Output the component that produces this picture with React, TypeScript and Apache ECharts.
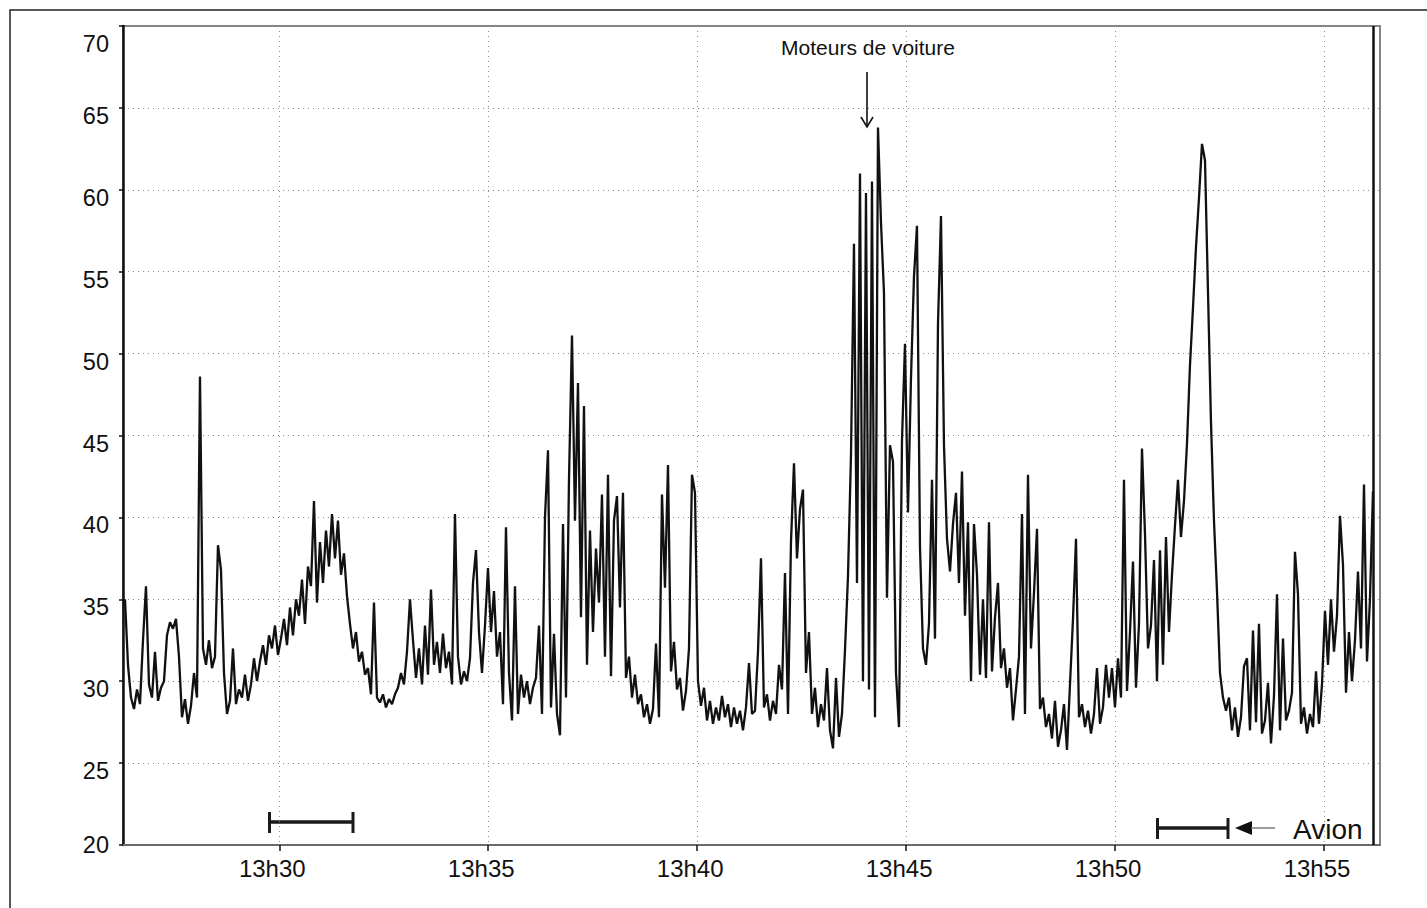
import React, { useEffect, useRef } from "react";
import * as echarts from "echarts";

const seg1326 = [35.0, 31.0, 29.0, 28.3, 29.5, 28.6, 32.5, 35.8, 29.8, 29.0, 31.8, 28.8, 29.6, 30.0, 32.8, 33.6, 33.2, 33.8, 31.5, 27.8, 28.9, 27.4, 28.5, 30.5, 29.0, 48.6, 32.0, 31.0, 32.5, 30.8, 31.5, 38.3, 36.8, 30.5, 28.0, 28.8, 32.0, 28.6, 29.5, 29.0, 30.4, 28.8, 29.8, 31.4, 30.0, 31.2, 32.2, 31.0, 32.8, 32.0, 33.4, 31.6, 32.6, 33.8, 32.2, 34.5, 32.8, 35.0, 34.0, 36.2, 33.5, 37.0, 35.8, 41.0, 34.8, 38.5, 36.0, 39.2, 37.0, 40.2, 37.5];
const seg1331 = [39.8, 36.5, 37.8, 35.2, 33.5, 32.0, 33.0, 31.2, 31.8, 30.4, 30.8, 29.2, 34.8, 29.0, 28.7, 29.2, 28.4, 28.9, 28.6, 29.2, 29.6, 30.5, 29.8, 31.8, 35.0, 32.5, 30.2, 32.0, 29.8, 33.4, 30.4, 35.6, 31.0, 32.4, 30.5, 32.9, 30.8, 31.8, 29.8, 40.2, 31.5, 29.8, 30.6, 30.0, 31.4, 36.0, 38.0, 33.0, 30.5, 33.4, 36.9, 33.0, 35.5, 31.5, 33.0, 28.6, 39.4, 30.5, 27.6, 35.8, 28.0, 30.4, 29.0, 30.0, 28.6, 29.6, 30.2, 33.4, 28.0, 40.0];
const seg1336 = [44.1, 28.4, 32.9, 28.0, 26.7, 39.6, 29.0, 42.3, 51.1, 39.8, 48.2, 33.9, 46.8, 31.0, 39.2, 33.0, 38.1, 34.8, 41.4, 31.5, 42.6, 30.3, 39.8, 41.3, 34.5, 41.5, 30.2, 31.5, 29.0, 30.4, 28.6, 29.2, 27.8, 28.6, 27.4, 28.3, 32.3, 27.8, 41.4, 35.7, 43.2, 30.6, 32.4, 29.5, 30.2, 28.2, 29.4, 32.0, 42.6, 41.5, 30.0, 28.5, 29.6, 27.6, 28.8, 27.4, 28.4, 27.6, 29.1, 27.8, 28.6, 27.2, 28.4, 27.4, 28.2, 27.0, 28.4, 31.1, 28.0];
const seg1341 = [28.2, 31.8, 37.5, 28.4, 29.2, 27.6, 28.8, 28.0, 31.0, 29.5, 36.6, 28.0, 38.5, 43.3, 37.5, 40.5, 41.7, 30.5, 33.0, 28.0, 29.6, 27.2, 28.6, 27.6, 30.8, 27.0, 25.9, 30.2, 26.6, 28.0, 31.9, 36.4, 43.8, 56.7, 36.0, 61.0, 30.0, 59.8, 29.5, 60.5, 27.8, 63.8, 58.0, 53.7, 35.1, 44.4, 43.4, 30.5, 27.2, 44.7, 50.6, 40.3, 48.5, 54.7, 57.8, 38.2, 32.0, 31.0, 33.5, 42.3, 32.6, 51.8, 58.4, 44.4, 38.7, 36.7, 39.6, 41.5, 36.0, 42.8];
const seg1346 = [34.0, 39.7, 30.0, 39.6, 36.5, 30.4, 35.0, 30.2, 39.7, 30.6, 33.9, 36.0, 30.8, 32.0, 29.6, 30.8, 27.6, 29.5, 31.5, 40.2, 28.0, 42.6, 32.0, 35.4, 39.3, 28.3, 29.0, 27.2, 28.0, 26.5, 28.8, 26.0, 27.0, 28.6, 25.8, 29.8, 33.8, 38.7, 27.8, 28.6, 27.2, 28.2, 26.8, 28.0, 30.8, 27.4, 28.4, 31.0, 29.0, 30.8, 28.4, 31.4, 29.0, 42.3, 29.4, 33.0, 37.3, 29.6, 33.5, 44.2, 39.0, 32.0, 33.4, 37.4, 30.0, 38.0, 31.0, 38.8, 33.0, 36.5, 39.5];
const seg1351 = [42.3, 38.8, 41.0, 44.5, 49.3, 52.8, 56.5, 59.5, 62.8, 61.8, 53.8, 45.8, 39.8, 35.5, 30.5, 29.0, 28.2, 29.0, 27.0, 28.4, 26.6, 27.8, 30.9, 31.4, 27.0, 33.1, 27.5, 33.5, 26.8, 27.6, 29.9, 26.2, 29.1, 35.3, 27.0, 32.6, 27.6, 28.2, 29.3, 37.9, 35.3, 27.4, 28.4, 26.8, 28.0, 27.2, 30.6, 27.4, 29.8, 34.3, 31.0, 35.0, 31.8, 34.0, 40.1, 37.1, 29.3, 33.0, 30.0, 32.5, 36.7, 32.0, 42.0, 31.2, 35.0, 41.6];

const levels = [...seg1326, ...seg1331, ...seg1336, ...seg1341, ...seg1346, ...seg1351];

// time axis in minutes after 13h00
const START_MIN = 26.3075;
const STEP_MIN = 0.07179;
const AXIS_MIN = 26.26;
const AXIS_MAX = 56.34;

const xTickValues = [30, 35, 40, 45, 50, 55];
const xTickLabels = ["13h30", "13h35", "13h40", "13h45", "13h50", "13h55"];
const yMidLabels = [25, 30, 35, 40, 45, 50, 55, 60, 65];

const FONT = "'Liberation Sans', Arial, Helvetica, sans-serif";

export default function App() {
  const ref = useRef<HTMLDivElement>(null);

  useEffect(() => {
    if (!ref.current) return;
    const chart = echarts.init(ref.current, null, { renderer: "svg" });
    const data = levels.map((v, i) => [START_MIN + i * STEP_MIN, v]);
    const lastTime = data[data.length - 1][0];

    const labelAxis = (values: number[], shiftDown: number) => ({
      type: "value",
      position: "left",
      min: 20,
      max: 70,
      axisLine: { show: false },
      axisTick: { show: false },
      splitLine: { show: false },
      axisLabel: {
        customValues: values,
        margin: 14,
        fontSize: 23.5,
        color: "#111",
        fontFamily: FONT,
        verticalAlign: shiftDown > 0 ? "top" : "middle",
        lineHeight: shiftDown > 0 ? shiftDown * 2 : 27,
      },
    });

    chart.setOption({
      animation: false,
      backgroundColor: "#fff",
      grid: {
        left: 123,
        right: 47,
        top: 26,
        bottom: 63,
        show: true,
        borderColor: "#858585",
        borderWidth: 2,
        containLabel: false,
      },
      xAxis: {
        type: "value",
        min: AXIS_MIN,
        max: AXIS_MAX,
        axisLine: { show: true, lineStyle: { color: "#6a6a6a", width: 2 } },
        axisTick: {
          show: true,
          customValues: xTickValues,
          length: 6,
          lineStyle: { color: "#111", width: 1.5 },
        },
        axisLabel: {
          customValues: xTickValues,
          formatter: (v: number) => xTickLabels[xTickValues.indexOf(Math.round(v))] ?? "",
          fontSize: 24,
          color: "#111",
          fontFamily: FONT,
          margin: 11,
          padding: [0, 14, 0, 0],
        },
        splitLine: {
          show: true,
          lineStyle: { color: "#8a8a8a", width: 1, type: [1, 4] },
        },
      },
      yAxis: [
        {
          type: "value",
          min: 20,
          max: 70,
          interval: 5,
          position: "left",
          axisLine: { show: true, lineStyle: { color: "#111", width: 2.5 } },
          axisTick: { show: true, length: 4, lineStyle: { color: "#111", width: 1.5 } },
          axisLabel: { show: false },
          splitLine: {
            show: true,
            lineStyle: { color: "#8a8a8a", width: 1, type: [1, 4] },
          },
        },
        labelAxis(yMidLabels, 8),
        labelAxis([70], 18),
        labelAxis([20], 0),
      ],
      series: [
        {
          type: "line",
          data,
          xAxisIndex: 0,
          yAxisIndex: 0,
          showSymbol: false,
          symbol: "none",
          lineStyle: { color: "#111", width: 2.3 },
          markLine: {
            silent: true,
            symbol: "none",
            label: { show: false },
            lineStyle: { color: "#111", width: 2.5, type: "solid" },
            data: [{ xAxis: lastTime }],
          },
        },
      ],
      graphic: [
        {
          type: "rect",
          shape: { x: 10, y: 10, width: 1440, height: 930 },
          style: { fill: "none", stroke: "#222", lineWidth: 1.5 },
          silent: true,
        },
        {
          type: "text",
          x: 868,
          y: 47,
          style: {
            text: "Moteurs de voiture",
            fontSize: 21,
            fontFamily: FONT,
            fill: "#111",
            align: "center",
            verticalAlign: "middle",
          },
        },
        {
          type: "line",
          shape: { x1: 867, y1: 72, x2: 867, y2: 127 },
          style: { stroke: "#111", lineWidth: 1.6 },
        },
        {
          type: "polyline",
          shape: { points: [[861, 117], [867, 127], [873, 117]] },
          style: { stroke: "#111", lineWidth: 1.6, fill: "none" },
        },
        // left time bar
        {
          type: "line",
          shape: { x1: 268, y1: 822, x2: 354, y2: 822 },
          style: { stroke: "#1a1a1a", lineWidth: 3.5 },
        },
        {
          type: "line",
          shape: { x1: 269.5, y1: 812, x2: 269.5, y2: 833 },
          style: { stroke: "#1a1a1a", lineWidth: 3 },
        },
        {
          type: "line",
          shape: { x1: 353, y1: 812, x2: 353, y2: 833 },
          style: { stroke: "#1a1a1a", lineWidth: 3 },
        },
        // Avion bar
        {
          type: "line",
          shape: { x1: 1156, y1: 828, x2: 1229, y2: 828 },
          style: { stroke: "#1a1a1a", lineWidth: 3.5 },
        },
        {
          type: "line",
          shape: { x1: 1157.5, y1: 818, x2: 1157.5, y2: 839 },
          style: { stroke: "#1a1a1a", lineWidth: 3 },
        },
        {
          type: "line",
          shape: { x1: 1228, y1: 818, x2: 1228, y2: 839 },
          style: { stroke: "#1a1a1a", lineWidth: 3 },
        },
        {
          type: "polygon",
          shape: { points: [[1235, 828], [1252, 821], [1252, 835]] },
          style: { fill: "#111" },
        },
        {
          type: "line",
          shape: { x1: 1251, y1: 828, x2: 1275, y2: 828 },
          style: { stroke: "#666", lineWidth: 1.3 },
        },
        {
          type: "text",
          x: 1293,
          y: 829,
          style: {
            text: "Avion",
            fontSize: 28,
            fontFamily: FONT,
            fill: "#111",
            align: "left",
            verticalAlign: "middle",
          },
        },
      ],
    });

    return () => chart.dispose();
  }, []);

  return (
    <div
      ref={ref}
      style={{ position: "fixed", left: 0, top: 0, width: 1427, height: 908, background: "#fff" }}
    />
  );
}
